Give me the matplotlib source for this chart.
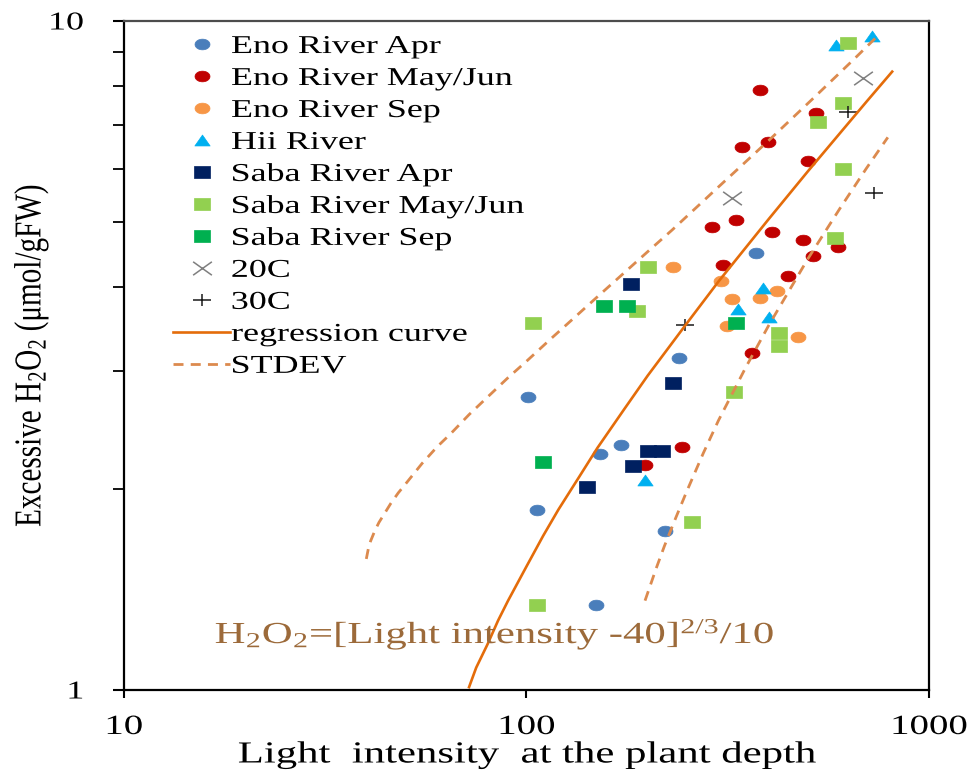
import numpy as np
import matplotlib
matplotlib.use("Agg")
import matplotlib.pyplot as plt
from matplotlib.path import Path
from matplotlib.patheffects import AbstractPathEffect
from matplotlib.transforms import Affine2D
from matplotlib.ticker import FixedLocator, NullFormatter, NullLocator

# --- field measurements: light intensity vs excessive H2O2 ---
eno_apr_x = [101, 106, 149, 152, 172, 221, 239, 372]
eno_apr_y = [2.74, 1.86, 1.34, 2.25, 2.32, 1.73, 3.14, 4.50]

eno_mayjun_x = [380, 343, 398, 524, 500, 289, 331, 407, 486, 515, 594, 308, 446, 363, 243, 197]
eno_mayjun_y = [7.88, 6.48, 6.59, 7.29, 6.18, 4.92, 5.04, 4.84, 4.71, 4.45, 4.59, 4.32, 4.16, 3.19, 2.31, 2.17]

eno_sep_x = [231, 304, 324, 380, 419, 473, 315]
eno_sep_y = [4.29, 4.09, 3.84, 3.85, 3.95, 3.37, 3.50]

hii_x = [587, 722, 335, 387, 400, 197]
hii_y = [9.21, 9.50, 3.71, 3.99, 3.61, 2.06]

saba_apr_x = [182, 231, 200, 217, 184, 141]
saba_apr_y = [4.04, 2.88, 2.28, 2.28, 2.16, 2.01]

saba_mayjun_x = [629, 611, 530, 611, 584, 200, 104, 188, 424, 424, 328, 258, 106]
saba_mayjun_y = [9.27, 7.54, 7.06, 6.01, 4.74, 4.29, 3.54, 3.69, 3.42, 3.27, 2.79, 1.78, 1.34]

saba_sep_x = [156, 178, 331, 110]
saba_sep_y = [3.75, 3.75, 3.54, 2.19]

# culture experiments
c20_x = [686, 324]
c20_y = [8.22, 5.44]
c30_x = [629, 730, 248]
c30_y = [7.31, 5.53, 3.51]

# regression curve and +/- STDEV band
reg_x = [72, 75, 80, 85, 90, 100, 110, 120, 135, 150, 175, 200, 250, 300, 400, 500, 600, 700, 810]
reg_y = [1.01, 1.08, 1.17, 1.27, 1.36, 1.53, 1.70, 1.86, 2.08, 2.30, 2.63, 2.95, 3.53, 4.08, 5.06, 5.96, 6.79, 7.58, 8.40]

upper_x = [40, 40.5, 41, 42, 43, 44.5, 46, 48, 50, 55, 60, 65, 72, 80, 90, 100, 115, 130, 150, 170,
           200, 230, 300, 400, 520, 650, 755]
upper_y = [1.57, 1.63, 1.67, 1.73, 1.78, 1.84, 1.90, 1.97, 2.03, 2.18, 2.31, 2.42, 2.58, 2.74, 2.93,
           3.10, 3.35, 3.58, 3.87, 4.14, 4.52, 4.87, 5.65, 6.63, 7.70, 8.76, 9.57]

lower_x = [197, 210, 220, 235, 250, 275, 300, 350, 400, 500, 600, 700, 790]
lower_y = [1.36, 1.52, 1.64, 1.81, 1.98, 2.26, 2.53, 3.03, 3.51, 4.41, 5.24, 6.03, 6.70]

x_ticks = [10, 100, 1000]
y_ticks = [1, 10]
y_minor = [2, 3, 4, 5, 6, 7, 8, 9]

WIDEN = 1.4  # the whole chart is drawn a bit wide


class Widen(AbstractPathEffect):
    """Draws text glyphs stretched around an anchor (sideways on screen)."""

    def __init__(self, factor=WIDEN, anchor="center", rotated=False):
        super().__init__()
        self.factor = factor
        self.anchor = anchor
        self.rotated = rotated

    def draw_path(self, renderer, gc, tpath, affine, rgbFace=None):
        ext = tpath.get_extents()
        if self.rotated:
            # text turned 90 degrees: screen x runs along the glyph height
            c = (ext.y0 + ext.y1) / 2
            t = Affine2D().translate(0, -c).scale(1, self.factor).translate(0, c)
        else:
            c = {"left": ext.x0, "center": (ext.x0 + ext.x1) / 2, "right": ext.x1}[self.anchor]
            t = Affine2D().translate(-c, 0).scale(self.factor, 1).translate(c, 0)
        renderer.draw_path(gc, tpath, t + affine, rgbFace)


# wide marker shapes
ang = np.linspace(0, 2 * np.pi, 49)
OVAL = Path(np.column_stack([WIDEN * np.cos(ang), np.sin(ang)]), closed=True)
BOX = Path([(-WIDEN, -1), (WIDEN, -1), (WIDEN, 1), (-WIDEN, 1), (-WIDEN, -1)], closed=True)
TRI = Path([(-WIDEN, -1), (WIDEN, -1), (0, 1), (-WIDEN, -1)], closed=True)
ML = [Path.MOVETO, Path.LINETO, Path.MOVETO, Path.LINETO]
XMARK = Path([(-WIDEN, -1), (WIDEN, 1), (-WIDEN, 1), (WIDEN, -1)], ML)
PLUS = Path([(-WIDEN, 0), (WIDEN, 0), (0, -1), (0, 1)], ML)

plt.rcParams["font.family"] = ["Liberation Serif", "DejaVu Serif"]
plt.rcParams["mathtext.fontset"] = "custom"
plt.rcParams["mathtext.rm"] = "Liberation Serif"
plt.rcParams["mathtext.it"] = "Liberation Serif:italic"
plt.rcParams["mathtext.bf"] = "Liberation Serif:bold"

fig = plt.figure(figsize=(9.73, 7.80), dpi=100)
ax = fig.add_axes([0.1274, 0.1154, 0.8274, 0.8577])
ax.set_xscale("log")
ax.set_yscale("log")


def points(xs, ys, marker, color, size, label, hollow=False):
    if hollow:
        ax.plot(xs, ys, ls="none", marker=marker, ms=size, mfc="none",
                mec=color, mew=1.1, label=label)
    else:
        ax.plot(xs, ys, ls="none", marker=marker, ms=size, mfc=color,
                mec=color, mew=0.5, label=label)


points(eno_apr_x, eno_apr_y, OVAL, "#4a7ebb", 10.8, "Eno River Apr")
points(eno_mayjun_x, eno_mayjun_y, OVAL, "#c00000", 10.8, "Eno River May/Jun")
points(eno_sep_x, eno_sep_y, OVAL, "#f79646", 10.8, "Eno River Sep")
points(hii_x, hii_y, TRI, "#00b0f0", 11.0, "Hii River")
points(saba_apr_x, saba_apr_y, BOX, "#002060", 12.0, "Saba River Apr")
points(saba_mayjun_x, saba_mayjun_y, BOX, "#92d050", 12.0, "Saba River May/Jun")
points(saba_sep_x, saba_sep_y, BOX, "#00b050", 12.0, "Saba River Sep")
points(c20_x, c20_y, XMARK, "#7f7f7f", 13.5, "20C", hollow=True)
points(c30_x, c30_y, PLUS, "#1a1a1a", 12.5, "30C", hollow=True)

ax.plot(reg_x, reg_y, color="#e46c0a", lw=1.9, label="regression curve")
ax.plot(upper_x, upper_y, color="#dc8a4e", lw=2.0, dashes=(3.6, 2.6), label="STDEV")
ax.plot(lower_x, lower_y, color="#dc8a4e", lw=2.0, dashes=(3.6, 2.6))

ax.set_xlim(10, 1000)
ax.set_ylim(1, 10)

# ticks
ax.xaxis.set_major_locator(FixedLocator(x_ticks))
ax.xaxis.set_minor_locator(NullLocator())
ax.set_xticklabels([str(v) for v in x_ticks])
ax.yaxis.set_major_locator(FixedLocator(y_ticks))
ax.yaxis.set_minor_locator(FixedLocator(y_minor))
ax.yaxis.set_minor_formatter(NullFormatter())
ax.set_yticklabels([str(v) for v in y_ticks])
ax.tick_params(axis="x", which="major", direction="out", length=6, width=1.5,
               labelsize=20, pad=12)
ax.tick_params(axis="y", which="major", direction="out", length=8, width=1.5,
               labelsize=18.5, pad=21)
ax.tick_params(axis="y", which="minor", direction="out", length=8, width=1.3)

for lab in ax.get_xticklabels():
    lab.set_path_effects([Widen(anchor="center")])
for lab in ax.get_yticklabels():
    lab.set_path_effects([Widen(anchor="right")])

for side in ["left", "bottom", "right"]:
    ax.spines[side].set_linewidth(1.6)
    ax.spines[side].set_color("black")
ax.spines["top"].set_linewidth(1.6)
ax.spines["top"].set_color("#4d4d4d")

xl = ax.set_xlabel("Light  intensity  at the plant depth", fontsize=22, labelpad=0)
xl.set_path_effects([Widen(anchor="center")])
yl = ax.set_ylabel(r"Excessive $\mathrm{H_2O_2}$ (μmol/gFW)", fontsize=21, labelpad=8)
yl.set_path_effects([Widen(factor=1.3, rotated=True)])

eq = ax.text(0.113, 0.070, r"$\mathrm{H_2O_2}$=[Light intensity -40$]^{\mathrm{2/3}}$/10",
             transform=ax.transAxes, fontsize=22, color="#9c6a3a", va="baseline", ha="left")
eq.set_path_effects([Widen(anchor="left")])

leg = ax.legend(loc="upper left", bbox_to_anchor=(0.0615, 0.979), frameon=False,
                fontsize=18.5, handlelength=2.2, handletextpad=0.05, labelspacing=0.35,
                borderpad=0, borderaxespad=0, numpoints=1)
for t in leg.get_texts():
    t.set_path_effects([Widen(anchor="left")])

fig.savefig("out.png", dpi=100)
